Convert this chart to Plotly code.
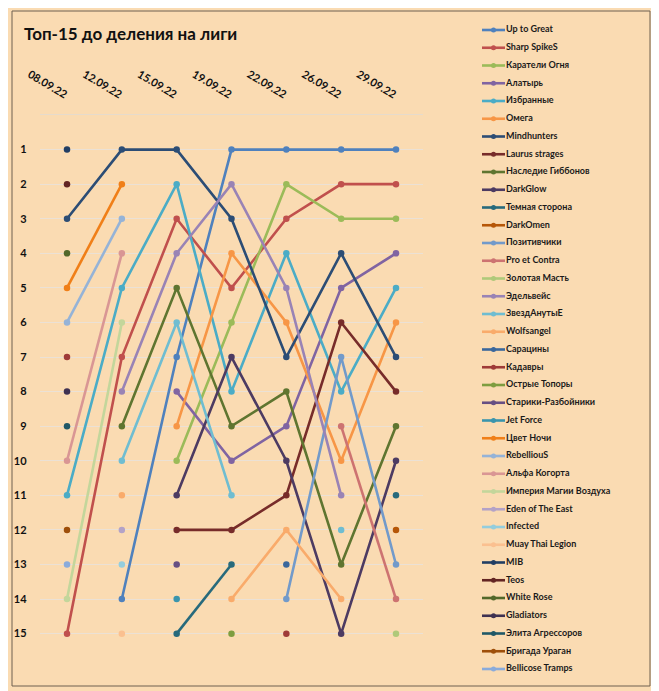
import plotly.graph_objects as go

N = None
dates = ["08.09.22", "12.09.22", "15.09.22", "19.09.22", "22.09.22", "26.09.22", "29.09.22"]
rank_ticks = list(range(1, 16))

teams = [
    "Up to Great", "Sharp SpikeS", "Каратели Огня", "Алатырь", "Избранные", "Омега",
    "Mindhunters", "Laurus strages", "Наследие Гиббонов", "DarkGlow", "Темная сторона", "DarkOmen",
    "Позитивчики", "Pro et Contra", "Золотая Масть", "Эдельвейс", "ЗвездАнутыЕ", "Wolfsangel",
    "Сарацины", "Кадавры", "Острые Топоры", "Старики-Разбойники", "Jet Force", "Цвет Ночи",
    "RebelliouS", "Альфа Когорта", "Империя Магии Воздуха", "Eden of The East", "Infected",
    "Muay Thai Legion", "MIB", "Teos", "White Rose", "Gladiators", "Элита Агрессоров",
    "Бригада Ураган", "Bellicose Tramps",
]

up_to_great = [N, 14, 7, 1, 1, 1, 1]
sharp_spikes = [15, 7, 3, 5, 3, 2, 2]
karateli = [N, N, 10, 6, 2, 3, 3]
alatyr = [N, N, 8, 10, 9, 5, 4]
izbrannye = [11, 5, 2, 8, 4, 8, 5]
omega = [N, N, 9, 4, 6, 10, 6]
mindhunters = [3, 1, 1, 3, 7, 4, 7]
laurus = [N, N, 12, 12, 11, 6, 8]
nasledie = [N, 9, 5, 9, 8, 13, 9]
darkglow = [N, N, 11, 7, 10, 15, 10]
temnaya = [N, N, 15, 13, N, N, 11]
darkomen = [N, N, N, N, N, N, 12]
pozitivchiki = [N, N, N, N, 14, 7, 13]
pro_et_contra = [N, N, N, N, N, 9, 14]
zolotaya = [N, N, N, N, N, N, 15]
edelweiss = [N, 8, 4, 2, 5, 11, N]
zvezdanutye = [N, 10, 6, 11, N, 12, N]
wolfsangel = [N, 11, N, 14, 12, 14, N]
saraciny = [N, N, N, N, 13, N, N]
kadavry = [7, N, N, N, 15, N, N]
ostrye = [N, N, N, 15, N, N, N]
stariki = [N, N, 13, N, N, N, N]
jet_force = [N, N, 14, N, N, N, N]
cvet_nochi = [5, 2, N, N, N, N, N]
rebellious = [6, 3, N, N, N, N, N]
alfa = [10, 4, N, N, N, N, N]
imperiya = [14, 6, N, N, N, N, N]
eden = [N, 12, N, N, N, N, N]
infected = [N, 13, N, N, N, N, N]
muay_thai = [N, 15, N, N, N, N, N]
mib = [1, N, N, N, N, N, N]
teos = [2, N, N, N, N, N, N]
white_rose = [4, N, N, N, N, N, N]
gladiators = [8, N, N, N, N, N, N]
elita = [9, N, N, N, N, N, N]
brigada = [12, N, N, N, N, N, N]
bellicose = [13, N, N, N, N, N, N]

ranks = [
    up_to_great, sharp_spikes, karateli, alatyr, izbrannye, omega,
    mindhunters, laurus, nasledie, darkglow, temnaya, darkomen,
    pozitivchiki, pro_et_contra, zolotaya, edelweiss, zvezdanutye, wolfsangel,
    saraciny, kadavry, ostrye, stariki, jet_force, cvet_nochi,
    rebellious, alfa, imperiya, eden, infected, muay_thai,
    mib, teos, white_rose, gladiators, elita, brigada, bellicose,
]

colors = [
    "#4F81BD", "#C0504D", "#9BBB59", "#8064A2", "#4BACC6", "#F79646",
    "#2C4D75", "#772C2A", "#5F7530", "#4D3B62", "#276A7C", "#B65708",
    "#729ACA", "#CD7371", "#AFC97A", "#9983B5", "#6FBDD1", "#F9AB6B",
    "#3A679C", "#9F3B38", "#7E9D40", "#664F83", "#3A95AD", "#F07F18",
    "#95B3D7", "#D99694", "#C3D69B", "#B3A2C7", "#93CDDD", "#FAC090",
    "#213E64", "#632523", "#52682A", "#3F3151", "#205867", "#9E4F0A",
    "#8AABDB",
]

# page has an 8px body margin; figure is sized to fit the window inside it
OFF = 8
W, H = 659 - OFF, 691 - OFF
FONT = "Lato"


def px(x):
    return (x - OFF) / W


def py(y):
    return 1 - (y - OFF) / H


fig = go.Figure()

for name, r, c in zip(teams, ranks, colors):
    fig.add_trace(go.Scatter(
        x=dates, y=r, name=name, mode="lines+markers",
        line=dict(color=c, width=2.6), marker=dict(color=c, size=6.5),
        connectgaps=False, showlegend=False, xaxis="x", yaxis="y",
        hovertemplate=name + ": %{y}<extra></extra>",
    ))

# custom legend (drawn on a hidden helper axis, one row per team)
for i, (name, c) in enumerate(zip(teams, colors)):
    fig.add_trace(go.Scatter(
        x=[12, 35], y=[i, i], mode="lines", line=dict(color=c, width=2.6),
        showlegend=False, hoverinfo="skip", xaxis="x2", yaxis="y2",
    ))
    fig.add_trace(go.Scatter(
        x=[23.5], y=[i], mode="markers", marker=dict(color=c, size=5),
        showlegend=False, hoverinfo="skip", xaxis="x2", yaxis="y2",
    ))
fig.add_trace(go.Scatter(
    x=[36] * len(teams), y=list(range(len(teams))), mode="text", text=teams,
    textposition="middle right",
    textfont=dict(family=FONT, size=9, color="#1a1a1a", weight="bold"),
    showlegend=False, hoverinfo="skip", xaxis="x2", yaxis="y2",
))

# legend helper axis mapping: row 0 at y=30px, row 36 at y=669px
step = (669 - 30) / 36.0
y2_top = 0 - (30 - OFF) / step
y2_bot = 36 + (691 - 669) / step

fig.update_layout(
    width=W, height=H, margin=dict(l=0, r=0, t=0, b=0, autoexpand=False),
    paper_bgcolor="#FADBB2", plot_bgcolor="rgba(0,0,0,0)",
    font=dict(family=FONT, color="#111111"),
    title=dict(
        text="Топ-15 до деления на лиги", x=px(24), xanchor="left",
        y=py(34), yanchor="middle", xref="paper", yref="paper",
        font=dict(family=FONT, size=17, color="#111111", weight="bold"),
    ),
    xaxis=dict(
        type="category", categoryorder="array", categoryarray=dates,
        domain=[px(39.6), px(423.4)], range=[-0.5, 6.5], side="top",
        tickangle=31, showgrid=False, showline=True, linecolor="#E6DBCC", linewidth=1,
        ticks="", ticklabelstandoff=10, anchor="y", automargin=False,
        tickfont=dict(family=FONT, size=11, color="#111111", weight="bold"),
    ),
    yaxis=dict(
        domain=[py(668.2), py(115)], range=[16, 0], tickvals=rank_ticks,
        showgrid=True, gridcolor="rgba(232,226,218,0.85)", gridwidth=1,
        zeroline=False, showline=False, ticks="", ticklabelstandoff=12, anchor="x",
        automargin=False,
        tickfont=dict(family=FONT, size=11, color="#111111", weight="bold"),
    ),
    xaxis2=dict(domain=[px(470), px(650)], range=[0, 180], visible=False,
                anchor="y2", automargin=False),
    yaxis2=dict(domain=[0, 1], range=[y2_bot, y2_top], visible=False,
                anchor="x2", automargin=False),
    shapes=[dict(
        type="rect", xref="paper", yref="paper",
        x0=px(12), x1=px(650), y0=py(686), y1=py(11),
        line=dict(color="#6E6151", width=1), fillcolor="rgba(0,0,0,0)", layer="below",
    )],
)

fig.write_html("out.html")
